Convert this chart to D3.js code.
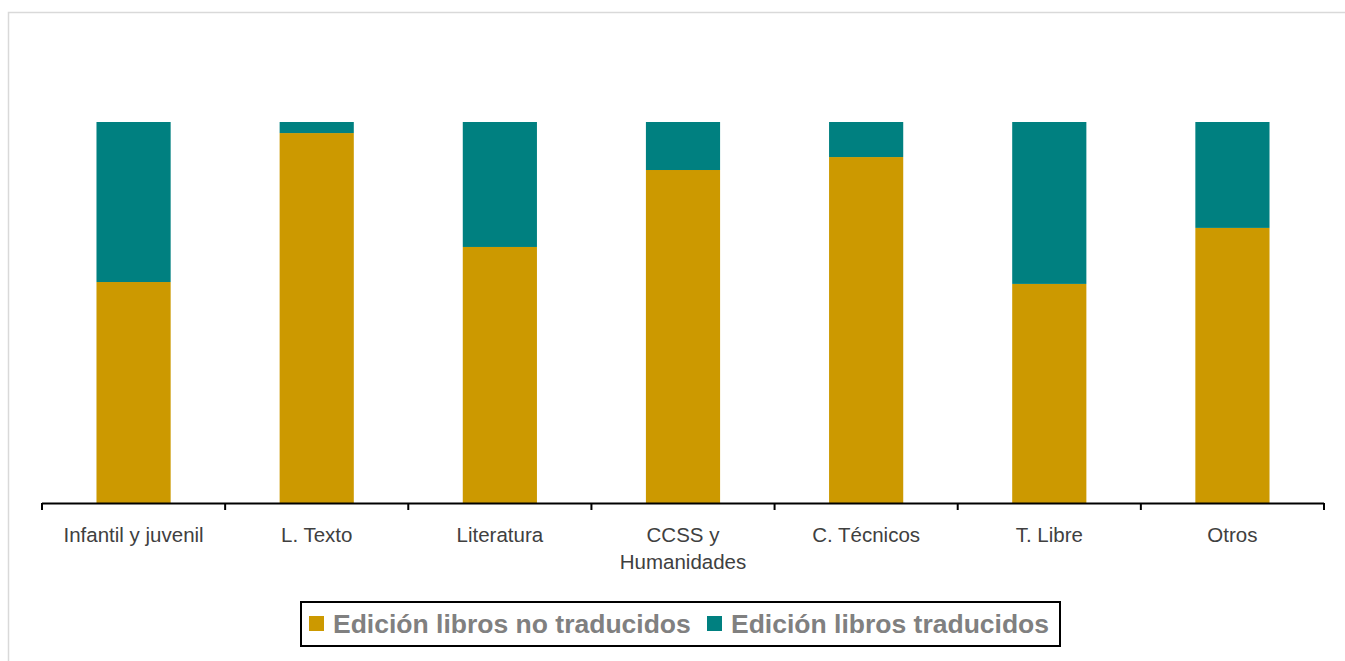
<!DOCTYPE html>
<html>
<head>
<meta charset="utf-8">
<script src="https://cdn.jsdelivr.net/npm/d3@7"></script>
<style>
  body { margin: 0; background: #fff; }
  svg { display: block; font-family: "Liberation Sans", Arial, sans-serif; }
</style>
</head>
<body>
<script>
// Edición de libros: traducidos vs no traducidos (100% apilado)
const width = 1345, height = 661

const categories = ["Infantil y juvenil", "L. Texto", "Literatura", "CCSS y Humanidades", "C. Técnicos", "T. Libre", "Otros"]
// share (%) of each category
const noTraducidos = [58.0, 97.1, 67.2, 87.4, 90.8, 57.5, 72.2]
const traducidos = [42.0, 2.9, 32.8, 12.6, 9.2, 42.5, 27.8]
const seriesNames = ["Edición libros no traducidos", "Edición libros traducidos"]
const colors = ["#CC9900", "#008080"]

const rows = categories.map(function(c, i){
  return { cat: c, a: noTraducidos[i], b: traducidos[i] }
})

const stack = d3.stack().keys(["a", "b"])
const stacked = stack(rows)

const x = d3.scaleBand()
    .domain(categories)
    .range([42, 1324])
    .paddingInner(0.595)
    .paddingOuter(0.2975)

const y = d3.scaleLinear()
    .domain([0, 100])
    .range([503, 122])

const svg = d3.select("body").append("svg")
    .attr("width", width)
    .attr("height", height)

// chart frame
svg.append("rect")
    .attr("x", 8.5)
    .attr("y", 12.5)
    .attr("width", 1345)
    .attr("height", 660)
    .style("fill", "none")
    .style("stroke", "#d9d9d9")
    .style("stroke-width", 1.5)

svg.selectAll(".serie")
    .data(stacked)
    .enter().append("g")
      .attr("class", "serie")
      .style("fill", function(d, i){ return colors[i] })
    .selectAll("rect")
      .data(function(d){ return d })
      .enter().append("rect")
        .attr("x", function(d){ return x(d.data.cat) })
        .attr("width", x.bandwidth())
        .attr("y", function(d){ return y(d[1]) })
        .attr("height", function(d){ return y(d[0]) - y(d[1]) })

// axis line + ticks at category boundaries
const axisG = svg.append("g").attr("class", "axis")
axisG.append("line")
    .attr("x1", 42).attr("x2", 1324)
    .attr("y1", 503.5).attr("y2", 503.5)
    .style("stroke", "#000")
    .style("stroke-width", 2)

const step = x.step()
const bounds = d3.range(categories.length + 1).map(function(i){ return 42 + i * step })
axisG.selectAll(".tick")
    .data(bounds)
    .enter().append("line")
      .attr("class", "tick")
      .attr("x1", function(d){ return d }).attr("x2", function(d){ return d })
      .attr("y1", 503).attr("y2", 510)
      .style("stroke", "#000")
      .style("stroke-width", 2)

// category labels (wrap the long one)
const labels = svg.selectAll(".label")
    .data(categories)
    .enter().append("text")
      .attr("class", "label")
      .attr("text-anchor", "middle")
      .attr("y", 542)
      .style("font-size", "20.5px")
      .style("fill", "#404040")

labels.each(function(d){
  const t = d3.select(this)
  const cx = x(d) + x.bandwidth() / 2
  const lines = d === "CCSS y Humanidades" ? ["CCSS y", "Humanidades"] : [d]
  lines.forEach(function(l, i){
    t.append("tspan")
      .attr("x", cx)
      .attr("dy", i === 0 ? 0 : 27)
      .text(l)
  })
})

// legend
const legend = svg.append("g").attr("class", "legend")
legend.append("rect")
    .attr("x", 301)
    .attr("y", 602)
    .attr("width", 759)
    .attr("height", 44)
    .style("fill", "#fff")
    .style("stroke", "#000")
    .style("stroke-width", 2)

const legendX = [309, 707]
seriesNames.forEach(function(name, i){
  legend.append("rect")
    .attr("x", legendX[i])
    .attr("y", 616)
    .attr("width", 15)
    .attr("height", 15)
    .style("fill", colors[i])
  legend.append("text")
    .attr("x", legendX[i] + 24)
    .attr("y", 633)
    .style("font-size", "26.5px")
    .style("font-weight", "bold")
    .style("fill", "#808080")
    .text(name)
})
</script>
</body>
</html>
